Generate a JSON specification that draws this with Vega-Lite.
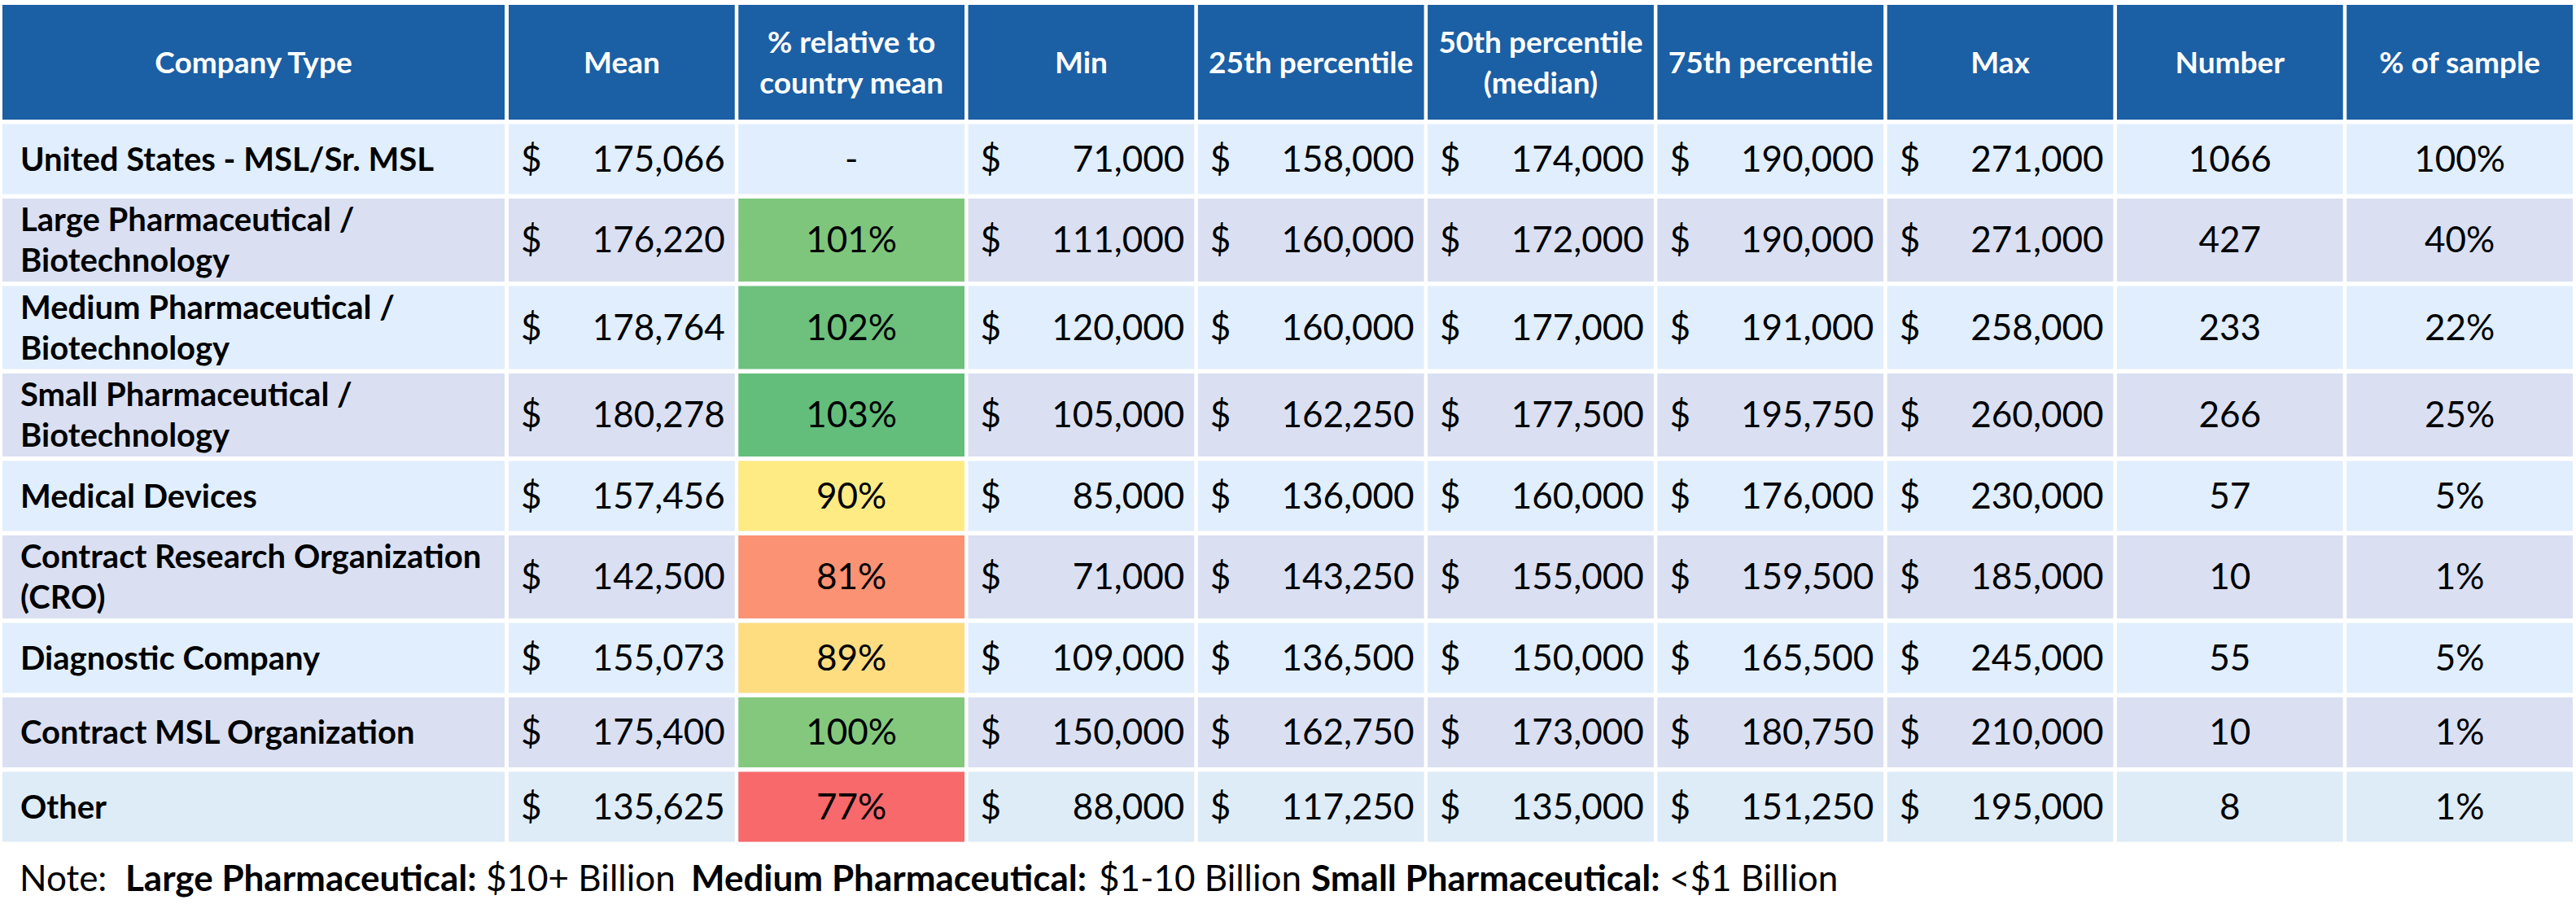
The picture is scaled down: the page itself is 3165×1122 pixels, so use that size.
{
  "$schema": "https://vega.github.io/schema/vega-lite/v6.json",
  "background": "white",
  "padding": {"left": 3, "top": 6, "right": 0, "bottom": 0},
  "config": {
    "view": {"stroke": null},
    "text": {"font": "Lato", "fontSize": 44, "color": "#000000", "dy": 2}
  },
  "datasets": {
    "rows": [
      {"type": "United States - MSL/Sr. MSL", "mean": 175066, "rel": null, "min": 71000, "p25": 158000, "p50": 174000, "p75": 190000, "max": 271000, "n": 1066, "share": 1.0},
      {"type": "Large Pharmaceutical / Biotechnology", "mean": 176220, "rel": 1.0066, "min": 111000, "p25": 160000, "p50": 172000, "p75": 190000, "max": 271000, "n": 427, "share": 0.40},
      {"type": "Medium Pharmaceutical / Biotechnology", "mean": 178764, "rel": 1.0211, "min": 120000, "p25": 160000, "p50": 177000, "p75": 191000, "max": 258000, "n": 233, "share": 0.22},
      {"type": "Small Pharmaceutical / Biotechnology", "mean": 180278, "rel": 1.0298, "min": 105000, "p25": 162250, "p50": 177500, "p75": 195750, "max": 260000, "n": 266, "share": 0.25},
      {"type": "Medical Devices", "mean": 157456, "rel": 0.8994, "min": 85000, "p25": 136000, "p50": 160000, "p75": 176000, "max": 230000, "n": 57, "share": 0.05},
      {"type": "Contract Research Organization (CRO)", "mean": 142500, "rel": 0.8140, "min": 71000, "p25": 143250, "p50": 155000, "p75": 159500, "max": 185000, "n": 10, "share": 0.01},
      {"type": "Diagnostic Company", "mean": 155073, "rel": 0.8858, "min": 109000, "p25": 136500, "p50": 150000, "p75": 165500, "max": 245000, "n": 55, "share": 0.05},
      {"type": "Contract MSL Organization", "mean": 175400, "rel": 1.0019, "min": 150000, "p25": 162750, "p50": 173000, "p75": 180750, "max": 210000, "n": 10, "share": 0.01},
      {"type": "Other", "mean": 135625, "rel": 0.7747, "min": 88000, "p25": 117250, "p50": 135000, "p75": 151250, "max": 195000, "n": 8, "share": 0.01}
    ],
    "cols": [
      {"col": "Company Type"},
      {"col": "Mean"},
      {"col": "% relative to country mean"},
      {"col": "Min"},
      {"col": "25th percentile"},
      {"col": "50th percentile (median)"},
      {"col": "75th percentile"},
      {"col": "Max"},
      {"col": "Number"},
      {"col": "% of sample"}
    ],
    "note": [
      {"part": "Note:"},
      {"part": "Large Pharmaceutical:"},
      {"part": "$10+ Billion"},
      {"part": "Medium Pharmaceutical:"},
      {"part": "$1-10 Billion"},
      {"part": "Small Pharmaceutical:"},
      {"part": "<$1 Billion"}
    ]
  },
  "data": {"name": "rows"},
  "spacing": 5.5,
  "vconcat": [
    {
      "spacing": 5, "bounds": "flush",
      "hconcat": [
        {"width": 617, "height": 141, "data": {"name": "cols"}, "view": {"fill": "#1B5FA5"},
         "transform": [{"filter": "datum.col === 'Company Type'"}],
         "mark": {"type": "text", "color": "white", "fontWeight": "bold", "fontSize": 37},
         "encoding": {"x": {"field": "col", "type": "nominal", "axis": null, "scale": {"type": "band", "paddingInner": 0, "paddingOuter": 0}}, "text": {"field": "col"}}},
        {"width": 2536, "height": 141, "data": {"name": "cols"},
         "transform": [{"filter": "datum.col !== 'Company Type'"}],
         "encoding": {"x": {"field": "col", "type": "nominal", "axis": null, "sort": null, "scale": {"type": "band", "domain": ["Mean", "% relative to country mean", "Min", "25th percentile", "50th percentile (median)", "75th percentile", "Max", "Number", "% of sample"], "paddingInner": 0.016, "paddingOuter": 0}}},
         "layer": [
           {"mark": {"type": "rect", "color": "#1B5FA5"}},
           {"transform": [{"filter": "indexof(['% relative to country mean', '50th percentile (median)'], datum.col) < 0"}], "mark": {"type": "text", "color": "white", "fontWeight": "bold", "fontSize": 37}, "encoding": {"text": {"field": "col"}}},
           {"transform": [{"filter": "indexof(['% relative to country mean', '50th percentile (median)'], datum.col) >= 0"}], "mark": {"type": "text", "color": "white", "fontWeight": "bold", "fontSize": 37, "lineHeight": 50, "dy": -23, "lineBreak": {"expr": "regexp('(?<=to) | (?=[(])')"}}, "encoding": {"text": {"field": "col"}}}
         ]}
      ]
    },
    {
      "spacing": 5, "bounds": "flush",
      "hconcat": [
        {"width": 617, "height": 86, "view": {"fill": "#E1EEFD"},
         "transform": [{"filter": "datum.type === 'United States - MSL/Sr. MSL'"}],
         "mark": {"type": "text", "align": "left", "dx": 22, "fontWeight": "bold", "fontSize": 40},
         "encoding": {"x": {"field": "type", "type": "nominal", "axis": null, "bandPosition": 0, "scale": {"type": "band", "paddingInner": 0, "paddingOuter": 0}}, "text": {"field": "type"}}},
        {"width": 2536, "height": 86,
         "transform": [{"filter": "datum.type === 'United States - MSL/Sr. MSL'"}, {"fold": ["mean", "rel", "min", "p25", "p50", "p75", "max", "n", "share"], "as": ["key", "value"]}],
         "encoding": {"x": {"field": "key", "type": "nominal", "axis": null, "scale": {"type": "band", "domain": ["mean", "rel", "min", "p25", "p50", "p75", "max", "n", "share"], "paddingInner": 0.016, "paddingOuter": 0}}},
         "layer": [
           {"mark": {"type": "rect", "color": "#E1EEFD"}},
           {"transform": [{"filter": "datum.key === 'rel' && datum.value != null"}], "mark": {"type": "rect"}, "encoding": {"color": {"field": "value", "type": "quantitative", "scale": {"domain": [0.7747, 0.8994, 1.0298], "range": ["#F8696B", "#FFEB84", "#63BE7B"], "interpolate": "rgb"}, "legend": null}}},
           {"transform": [{"filter": "indexof(['mean','min','p25','p50','p75','max'], datum.key) >= 0"}], "mark": {"type": "text", "align": "left", "dx": 15, "text": "$"}, "encoding": {"x": {"field": "key", "type": "nominal", "axis": null, "bandPosition": 0, "scale": {"type": "band", "domain": ["mean", "rel", "min", "p25", "p50", "p75", "max", "n", "share"], "paddingInner": 0.016, "paddingOuter": 0}}}},
           {"transform": [{"filter": "indexof(['mean','min','p25','p50','p75','max'], datum.key) >= 0"}], "mark": {"type": "text", "align": "right", "dx": -12}, "encoding": {"x": {"field": "key", "type": "nominal", "axis": null, "bandPosition": 1, "scale": {"type": "band", "domain": ["mean", "rel", "min", "p25", "p50", "p75", "max", "n", "share"], "paddingInner": 0.016, "paddingOuter": 0}}, "text": {"field": "value", "type": "quantitative", "format": ",d"}}},
           {"transform": [{"filter": "datum.key === 'rel' && datum.value != null"}], "mark": {"type": "text"}, "encoding": {"text": {"field": "value", "type": "quantitative", "format": ".0%"}}},
           {"transform": [{"filter": "datum.key === 'rel' && datum.value == null"}], "mark": {"type": "text", "text": "-"}},
           {"transform": [{"filter": "datum.key === 'n'"}], "mark": {"type": "text"}, "encoding": {"text": {"field": "value", "type": "quantitative", "format": "d"}}},
           {"transform": [{"filter": "datum.key === 'share'"}], "mark": {"type": "text"}, "encoding": {"text": {"field": "value", "type": "quantitative", "format": ".0%"}}}
         ]}
      ]
    },
    {
      "spacing": 5, "bounds": "flush",
      "hconcat": [
        {"width": 617, "height": 102, "view": {"fill": "#DAE0F2"},
         "transform": [{"filter": "datum.type === 'Large Pharmaceutical / Biotechnology'"}],
         "mark": {"type": "text", "align": "left", "dx": 22, "dy": -23, "fontWeight": "bold", "fontSize": 40, "lineHeight": 50, "lineBreak": {"expr": "regexp('(?<=/) | (?=[(])')"}},
         "encoding": {"x": {"field": "type", "type": "nominal", "axis": null, "bandPosition": 0, "scale": {"type": "band", "paddingInner": 0, "paddingOuter": 0}}, "text": {"field": "type"}}},
        {"width": 2536, "height": 102,
         "transform": [{"filter": "datum.type === 'Large Pharmaceutical / Biotechnology'"}, {"fold": ["mean", "rel", "min", "p25", "p50", "p75", "max", "n", "share"], "as": ["key", "value"]}],
         "encoding": {"x": {"field": "key", "type": "nominal", "axis": null, "scale": {"type": "band", "domain": ["mean", "rel", "min", "p25", "p50", "p75", "max", "n", "share"], "paddingInner": 0.016, "paddingOuter": 0}}},
         "layer": [
           {"mark": {"type": "rect", "color": "#DAE0F2"}},
           {"transform": [{"filter": "datum.key === 'rel' && datum.value != null"}], "mark": {"type": "rect"}, "encoding": {"color": {"field": "value", "type": "quantitative", "scale": {"domain": [0.7747, 0.8994, 1.0298], "range": ["#F8696B", "#FFEB84", "#63BE7B"], "interpolate": "rgb"}, "legend": null}}},
           {"transform": [{"filter": "indexof(['mean','min','p25','p50','p75','max'], datum.key) >= 0"}], "mark": {"type": "text", "align": "left", "dx": 15, "text": "$"}, "encoding": {"x": {"field": "key", "type": "nominal", "axis": null, "bandPosition": 0, "scale": {"type": "band", "domain": ["mean", "rel", "min", "p25", "p50", "p75", "max", "n", "share"], "paddingInner": 0.016, "paddingOuter": 0}}}},
           {"transform": [{"filter": "indexof(['mean','min','p25','p50','p75','max'], datum.key) >= 0"}], "mark": {"type": "text", "align": "right", "dx": -12}, "encoding": {"x": {"field": "key", "type": "nominal", "axis": null, "bandPosition": 1, "scale": {"type": "band", "domain": ["mean", "rel", "min", "p25", "p50", "p75", "max", "n", "share"], "paddingInner": 0.016, "paddingOuter": 0}}, "text": {"field": "value", "type": "quantitative", "format": ",d"}}},
           {"transform": [{"filter": "datum.key === 'rel' && datum.value != null"}], "mark": {"type": "text"}, "encoding": {"text": {"field": "value", "type": "quantitative", "format": ".0%"}}},
           {"transform": [{"filter": "datum.key === 'rel' && datum.value == null"}], "mark": {"type": "text", "text": "-"}},
           {"transform": [{"filter": "datum.key === 'n'"}], "mark": {"type": "text"}, "encoding": {"text": {"field": "value", "type": "quantitative", "format": "d"}}},
           {"transform": [{"filter": "datum.key === 'share'"}], "mark": {"type": "text"}, "encoding": {"text": {"field": "value", "type": "quantitative", "format": ".0%"}}}
         ]}
      ]
    },
    {
      "spacing": 5, "bounds": "flush",
      "hconcat": [
        {"width": 617, "height": 102, "view": {"fill": "#E1EEFD"},
         "transform": [{"filter": "datum.type === 'Medium Pharmaceutical / Biotechnology'"}],
         "mark": {"type": "text", "align": "left", "dx": 22, "dy": -23, "fontWeight": "bold", "fontSize": 40, "lineHeight": 50, "lineBreak": {"expr": "regexp('(?<=/) | (?=[(])')"}},
         "encoding": {"x": {"field": "type", "type": "nominal", "axis": null, "bandPosition": 0, "scale": {"type": "band", "paddingInner": 0, "paddingOuter": 0}}, "text": {"field": "type"}}},
        {"width": 2536, "height": 102,
         "transform": [{"filter": "datum.type === 'Medium Pharmaceutical / Biotechnology'"}, {"fold": ["mean", "rel", "min", "p25", "p50", "p75", "max", "n", "share"], "as": ["key", "value"]}],
         "encoding": {"x": {"field": "key", "type": "nominal", "axis": null, "scale": {"type": "band", "domain": ["mean", "rel", "min", "p25", "p50", "p75", "max", "n", "share"], "paddingInner": 0.016, "paddingOuter": 0}}},
         "layer": [
           {"mark": {"type": "rect", "color": "#E1EEFD"}},
           {"transform": [{"filter": "datum.key === 'rel' && datum.value != null"}], "mark": {"type": "rect"}, "encoding": {"color": {"field": "value", "type": "quantitative", "scale": {"domain": [0.7747, 0.8994, 1.0298], "range": ["#F8696B", "#FFEB84", "#63BE7B"], "interpolate": "rgb"}, "legend": null}}},
           {"transform": [{"filter": "indexof(['mean','min','p25','p50','p75','max'], datum.key) >= 0"}], "mark": {"type": "text", "align": "left", "dx": 15, "text": "$"}, "encoding": {"x": {"field": "key", "type": "nominal", "axis": null, "bandPosition": 0, "scale": {"type": "band", "domain": ["mean", "rel", "min", "p25", "p50", "p75", "max", "n", "share"], "paddingInner": 0.016, "paddingOuter": 0}}}},
           {"transform": [{"filter": "indexof(['mean','min','p25','p50','p75','max'], datum.key) >= 0"}], "mark": {"type": "text", "align": "right", "dx": -12}, "encoding": {"x": {"field": "key", "type": "nominal", "axis": null, "bandPosition": 1, "scale": {"type": "band", "domain": ["mean", "rel", "min", "p25", "p50", "p75", "max", "n", "share"], "paddingInner": 0.016, "paddingOuter": 0}}, "text": {"field": "value", "type": "quantitative", "format": ",d"}}},
           {"transform": [{"filter": "datum.key === 'rel' && datum.value != null"}], "mark": {"type": "text"}, "encoding": {"text": {"field": "value", "type": "quantitative", "format": ".0%"}}},
           {"transform": [{"filter": "datum.key === 'rel' && datum.value == null"}], "mark": {"type": "text", "text": "-"}},
           {"transform": [{"filter": "datum.key === 'n'"}], "mark": {"type": "text"}, "encoding": {"text": {"field": "value", "type": "quantitative", "format": "d"}}},
           {"transform": [{"filter": "datum.key === 'share'"}], "mark": {"type": "text"}, "encoding": {"text": {"field": "value", "type": "quantitative", "format": ".0%"}}}
         ]}
      ]
    },
    {
      "spacing": 5, "bounds": "flush",
      "hconcat": [
        {"width": 617, "height": 102, "view": {"fill": "#DAE0F2"},
         "transform": [{"filter": "datum.type === 'Small Pharmaceutical / Biotechnology'"}],
         "mark": {"type": "text", "align": "left", "dx": 22, "dy": -23, "fontWeight": "bold", "fontSize": 40, "lineHeight": 50, "lineBreak": {"expr": "regexp('(?<=/) | (?=[(])')"}},
         "encoding": {"x": {"field": "type", "type": "nominal", "axis": null, "bandPosition": 0, "scale": {"type": "band", "paddingInner": 0, "paddingOuter": 0}}, "text": {"field": "type"}}},
        {"width": 2536, "height": 102,
         "transform": [{"filter": "datum.type === 'Small Pharmaceutical / Biotechnology'"}, {"fold": ["mean", "rel", "min", "p25", "p50", "p75", "max", "n", "share"], "as": ["key", "value"]}],
         "encoding": {"x": {"field": "key", "type": "nominal", "axis": null, "scale": {"type": "band", "domain": ["mean", "rel", "min", "p25", "p50", "p75", "max", "n", "share"], "paddingInner": 0.016, "paddingOuter": 0}}},
         "layer": [
           {"mark": {"type": "rect", "color": "#DAE0F2"}},
           {"transform": [{"filter": "datum.key === 'rel' && datum.value != null"}], "mark": {"type": "rect"}, "encoding": {"color": {"field": "value", "type": "quantitative", "scale": {"domain": [0.7747, 0.8994, 1.0298], "range": ["#F8696B", "#FFEB84", "#63BE7B"], "interpolate": "rgb"}, "legend": null}}},
           {"transform": [{"filter": "indexof(['mean','min','p25','p50','p75','max'], datum.key) >= 0"}], "mark": {"type": "text", "align": "left", "dx": 15, "text": "$"}, "encoding": {"x": {"field": "key", "type": "nominal", "axis": null, "bandPosition": 0, "scale": {"type": "band", "domain": ["mean", "rel", "min", "p25", "p50", "p75", "max", "n", "share"], "paddingInner": 0.016, "paddingOuter": 0}}}},
           {"transform": [{"filter": "indexof(['mean','min','p25','p50','p75','max'], datum.key) >= 0"}], "mark": {"type": "text", "align": "right", "dx": -12}, "encoding": {"x": {"field": "key", "type": "nominal", "axis": null, "bandPosition": 1, "scale": {"type": "band", "domain": ["mean", "rel", "min", "p25", "p50", "p75", "max", "n", "share"], "paddingInner": 0.016, "paddingOuter": 0}}, "text": {"field": "value", "type": "quantitative", "format": ",d"}}},
           {"transform": [{"filter": "datum.key === 'rel' && datum.value != null"}], "mark": {"type": "text"}, "encoding": {"text": {"field": "value", "type": "quantitative", "format": ".0%"}}},
           {"transform": [{"filter": "datum.key === 'rel' && datum.value == null"}], "mark": {"type": "text", "text": "-"}},
           {"transform": [{"filter": "datum.key === 'n'"}], "mark": {"type": "text"}, "encoding": {"text": {"field": "value", "type": "quantitative", "format": "d"}}},
           {"transform": [{"filter": "datum.key === 'share'"}], "mark": {"type": "text"}, "encoding": {"text": {"field": "value", "type": "quantitative", "format": ".0%"}}}
         ]}
      ]
    },
    {
      "spacing": 5, "bounds": "flush",
      "hconcat": [
        {"width": 617, "height": 86, "view": {"fill": "#E1EEFD"},
         "transform": [{"filter": "datum.type === 'Medical Devices'"}],
         "mark": {"type": "text", "align": "left", "dx": 22, "fontWeight": "bold", "fontSize": 40},
         "encoding": {"x": {"field": "type", "type": "nominal", "axis": null, "bandPosition": 0, "scale": {"type": "band", "paddingInner": 0, "paddingOuter": 0}}, "text": {"field": "type"}}},
        {"width": 2536, "height": 86,
         "transform": [{"filter": "datum.type === 'Medical Devices'"}, {"fold": ["mean", "rel", "min", "p25", "p50", "p75", "max", "n", "share"], "as": ["key", "value"]}],
         "encoding": {"x": {"field": "key", "type": "nominal", "axis": null, "scale": {"type": "band", "domain": ["mean", "rel", "min", "p25", "p50", "p75", "max", "n", "share"], "paddingInner": 0.016, "paddingOuter": 0}}},
         "layer": [
           {"mark": {"type": "rect", "color": "#E1EEFD"}},
           {"transform": [{"filter": "datum.key === 'rel' && datum.value != null"}], "mark": {"type": "rect"}, "encoding": {"color": {"field": "value", "type": "quantitative", "scale": {"domain": [0.7747, 0.8994, 1.0298], "range": ["#F8696B", "#FFEB84", "#63BE7B"], "interpolate": "rgb"}, "legend": null}}},
           {"transform": [{"filter": "indexof(['mean','min','p25','p50','p75','max'], datum.key) >= 0"}], "mark": {"type": "text", "align": "left", "dx": 15, "text": "$"}, "encoding": {"x": {"field": "key", "type": "nominal", "axis": null, "bandPosition": 0, "scale": {"type": "band", "domain": ["mean", "rel", "min", "p25", "p50", "p75", "max", "n", "share"], "paddingInner": 0.016, "paddingOuter": 0}}}},
           {"transform": [{"filter": "indexof(['mean','min','p25','p50','p75','max'], datum.key) >= 0"}], "mark": {"type": "text", "align": "right", "dx": -12}, "encoding": {"x": {"field": "key", "type": "nominal", "axis": null, "bandPosition": 1, "scale": {"type": "band", "domain": ["mean", "rel", "min", "p25", "p50", "p75", "max", "n", "share"], "paddingInner": 0.016, "paddingOuter": 0}}, "text": {"field": "value", "type": "quantitative", "format": ",d"}}},
           {"transform": [{"filter": "datum.key === 'rel' && datum.value != null"}], "mark": {"type": "text"}, "encoding": {"text": {"field": "value", "type": "quantitative", "format": ".0%"}}},
           {"transform": [{"filter": "datum.key === 'rel' && datum.value == null"}], "mark": {"type": "text", "text": "-"}},
           {"transform": [{"filter": "datum.key === 'n'"}], "mark": {"type": "text"}, "encoding": {"text": {"field": "value", "type": "quantitative", "format": "d"}}},
           {"transform": [{"filter": "datum.key === 'share'"}], "mark": {"type": "text"}, "encoding": {"text": {"field": "value", "type": "quantitative", "format": ".0%"}}}
         ]}
      ]
    },
    {
      "spacing": 5, "bounds": "flush",
      "hconcat": [
        {"width": 617, "height": 102, "view": {"fill": "#DAE0F2"},
         "transform": [{"filter": "datum.type === 'Contract Research Organization (CRO)'"}],
         "mark": {"type": "text", "align": "left", "dx": 22, "dy": -23, "fontWeight": "bold", "fontSize": 40, "lineHeight": 50, "lineBreak": {"expr": "regexp('(?<=/) | (?=[(])')"}},
         "encoding": {"x": {"field": "type", "type": "nominal", "axis": null, "bandPosition": 0, "scale": {"type": "band", "paddingInner": 0, "paddingOuter": 0}}, "text": {"field": "type"}}},
        {"width": 2536, "height": 102,
         "transform": [{"filter": "datum.type === 'Contract Research Organization (CRO)'"}, {"fold": ["mean", "rel", "min", "p25", "p50", "p75", "max", "n", "share"], "as": ["key", "value"]}],
         "encoding": {"x": {"field": "key", "type": "nominal", "axis": null, "scale": {"type": "band", "domain": ["mean", "rel", "min", "p25", "p50", "p75", "max", "n", "share"], "paddingInner": 0.016, "paddingOuter": 0}}},
         "layer": [
           {"mark": {"type": "rect", "color": "#DAE0F2"}},
           {"transform": [{"filter": "datum.key === 'rel' && datum.value != null"}], "mark": {"type": "rect"}, "encoding": {"color": {"field": "value", "type": "quantitative", "scale": {"domain": [0.7747, 0.8994, 1.0298], "range": ["#F8696B", "#FFEB84", "#63BE7B"], "interpolate": "rgb"}, "legend": null}}},
           {"transform": [{"filter": "indexof(['mean','min','p25','p50','p75','max'], datum.key) >= 0"}], "mark": {"type": "text", "align": "left", "dx": 15, "text": "$"}, "encoding": {"x": {"field": "key", "type": "nominal", "axis": null, "bandPosition": 0, "scale": {"type": "band", "domain": ["mean", "rel", "min", "p25", "p50", "p75", "max", "n", "share"], "paddingInner": 0.016, "paddingOuter": 0}}}},
           {"transform": [{"filter": "indexof(['mean','min','p25','p50','p75','max'], datum.key) >= 0"}], "mark": {"type": "text", "align": "right", "dx": -12}, "encoding": {"x": {"field": "key", "type": "nominal", "axis": null, "bandPosition": 1, "scale": {"type": "band", "domain": ["mean", "rel", "min", "p25", "p50", "p75", "max", "n", "share"], "paddingInner": 0.016, "paddingOuter": 0}}, "text": {"field": "value", "type": "quantitative", "format": ",d"}}},
           {"transform": [{"filter": "datum.key === 'rel' && datum.value != null"}], "mark": {"type": "text"}, "encoding": {"text": {"field": "value", "type": "quantitative", "format": ".0%"}}},
           {"transform": [{"filter": "datum.key === 'rel' && datum.value == null"}], "mark": {"type": "text", "text": "-"}},
           {"transform": [{"filter": "datum.key === 'n'"}], "mark": {"type": "text"}, "encoding": {"text": {"field": "value", "type": "quantitative", "format": "d"}}},
           {"transform": [{"filter": "datum.key === 'share'"}], "mark": {"type": "text"}, "encoding": {"text": {"field": "value", "type": "quantitative", "format": ".0%"}}}
         ]}
      ]
    },
    {
      "spacing": 5, "bounds": "flush",
      "hconcat": [
        {"width": 617, "height": 86, "view": {"fill": "#E1EEFD"},
         "transform": [{"filter": "datum.type === 'Diagnostic Company'"}],
         "mark": {"type": "text", "align": "left", "dx": 22, "fontWeight": "bold", "fontSize": 40},
         "encoding": {"x": {"field": "type", "type": "nominal", "axis": null, "bandPosition": 0, "scale": {"type": "band", "paddingInner": 0, "paddingOuter": 0}}, "text": {"field": "type"}}},
        {"width": 2536, "height": 86,
         "transform": [{"filter": "datum.type === 'Diagnostic Company'"}, {"fold": ["mean", "rel", "min", "p25", "p50", "p75", "max", "n", "share"], "as": ["key", "value"]}],
         "encoding": {"x": {"field": "key", "type": "nominal", "axis": null, "scale": {"type": "band", "domain": ["mean", "rel", "min", "p25", "p50", "p75", "max", "n", "share"], "paddingInner": 0.016, "paddingOuter": 0}}},
         "layer": [
           {"mark": {"type": "rect", "color": "#E1EEFD"}},
           {"transform": [{"filter": "datum.key === 'rel' && datum.value != null"}], "mark": {"type": "rect"}, "encoding": {"color": {"field": "value", "type": "quantitative", "scale": {"domain": [0.7747, 0.8994, 1.0298], "range": ["#F8696B", "#FFEB84", "#63BE7B"], "interpolate": "rgb"}, "legend": null}}},
           {"transform": [{"filter": "indexof(['mean','min','p25','p50','p75','max'], datum.key) >= 0"}], "mark": {"type": "text", "align": "left", "dx": 15, "text": "$"}, "encoding": {"x": {"field": "key", "type": "nominal", "axis": null, "bandPosition": 0, "scale": {"type": "band", "domain": ["mean", "rel", "min", "p25", "p50", "p75", "max", "n", "share"], "paddingInner": 0.016, "paddingOuter": 0}}}},
           {"transform": [{"filter": "indexof(['mean','min','p25','p50','p75','max'], datum.key) >= 0"}], "mark": {"type": "text", "align": "right", "dx": -12}, "encoding": {"x": {"field": "key", "type": "nominal", "axis": null, "bandPosition": 1, "scale": {"type": "band", "domain": ["mean", "rel", "min", "p25", "p50", "p75", "max", "n", "share"], "paddingInner": 0.016, "paddingOuter": 0}}, "text": {"field": "value", "type": "quantitative", "format": ",d"}}},
           {"transform": [{"filter": "datum.key === 'rel' && datum.value != null"}], "mark": {"type": "text"}, "encoding": {"text": {"field": "value", "type": "quantitative", "format": ".0%"}}},
           {"transform": [{"filter": "datum.key === 'rel' && datum.value == null"}], "mark": {"type": "text", "text": "-"}},
           {"transform": [{"filter": "datum.key === 'n'"}], "mark": {"type": "text"}, "encoding": {"text": {"field": "value", "type": "quantitative", "format": "d"}}},
           {"transform": [{"filter": "datum.key === 'share'"}], "mark": {"type": "text"}, "encoding": {"text": {"field": "value", "type": "quantitative", "format": ".0%"}}}
         ]}
      ]
    },
    {
      "spacing": 5, "bounds": "flush",
      "hconcat": [
        {"width": 617, "height": 86, "view": {"fill": "#DAE0F2"},
         "transform": [{"filter": "datum.type === 'Contract MSL Organization'"}],
         "mark": {"type": "text", "align": "left", "dx": 22, "fontWeight": "bold", "fontSize": 40},
         "encoding": {"x": {"field": "type", "type": "nominal", "axis": null, "bandPosition": 0, "scale": {"type": "band", "paddingInner": 0, "paddingOuter": 0}}, "text": {"field": "type"}}},
        {"width": 2536, "height": 86,
         "transform": [{"filter": "datum.type === 'Contract MSL Organization'"}, {"fold": ["mean", "rel", "min", "p25", "p50", "p75", "max", "n", "share"], "as": ["key", "value"]}],
         "encoding": {"x": {"field": "key", "type": "nominal", "axis": null, "scale": {"type": "band", "domain": ["mean", "rel", "min", "p25", "p50", "p75", "max", "n", "share"], "paddingInner": 0.016, "paddingOuter": 0}}},
         "layer": [
           {"mark": {"type": "rect", "color": "#DAE0F2"}},
           {"transform": [{"filter": "datum.key === 'rel' && datum.value != null"}], "mark": {"type": "rect"}, "encoding": {"color": {"field": "value", "type": "quantitative", "scale": {"domain": [0.7747, 0.8994, 1.0298], "range": ["#F8696B", "#FFEB84", "#63BE7B"], "interpolate": "rgb"}, "legend": null}}},
           {"transform": [{"filter": "indexof(['mean','min','p25','p50','p75','max'], datum.key) >= 0"}], "mark": {"type": "text", "align": "left", "dx": 15, "text": "$"}, "encoding": {"x": {"field": "key", "type": "nominal", "axis": null, "bandPosition": 0, "scale": {"type": "band", "domain": ["mean", "rel", "min", "p25", "p50", "p75", "max", "n", "share"], "paddingInner": 0.016, "paddingOuter": 0}}}},
           {"transform": [{"filter": "indexof(['mean','min','p25','p50','p75','max'], datum.key) >= 0"}], "mark": {"type": "text", "align": "right", "dx": -12}, "encoding": {"x": {"field": "key", "type": "nominal", "axis": null, "bandPosition": 1, "scale": {"type": "band", "domain": ["mean", "rel", "min", "p25", "p50", "p75", "max", "n", "share"], "paddingInner": 0.016, "paddingOuter": 0}}, "text": {"field": "value", "type": "quantitative", "format": ",d"}}},
           {"transform": [{"filter": "datum.key === 'rel' && datum.value != null"}], "mark": {"type": "text"}, "encoding": {"text": {"field": "value", "type": "quantitative", "format": ".0%"}}},
           {"transform": [{"filter": "datum.key === 'rel' && datum.value == null"}], "mark": {"type": "text", "text": "-"}},
           {"transform": [{"filter": "datum.key === 'n'"}], "mark": {"type": "text"}, "encoding": {"text": {"field": "value", "type": "quantitative", "format": "d"}}},
           {"transform": [{"filter": "datum.key === 'share'"}], "mark": {"type": "text"}, "encoding": {"text": {"field": "value", "type": "quantitative", "format": ".0%"}}}
         ]}
      ]
    },
    {
      "spacing": 5, "bounds": "flush",
      "hconcat": [
        {"width": 617, "height": 86, "view": {"fill": "#DEECF7"},
         "transform": [{"filter": "datum.type === 'Other'"}],
         "mark": {"type": "text", "align": "left", "dx": 22, "fontWeight": "bold", "fontSize": 40},
         "encoding": {"x": {"field": "type", "type": "nominal", "axis": null, "bandPosition": 0, "scale": {"type": "band", "paddingInner": 0, "paddingOuter": 0}}, "text": {"field": "type"}}},
        {"width": 2536, "height": 86,
         "transform": [{"filter": "datum.type === 'Other'"}, {"fold": ["mean", "rel", "min", "p25", "p50", "p75", "max", "n", "share"], "as": ["key", "value"]}],
         "encoding": {"x": {"field": "key", "type": "nominal", "axis": null, "scale": {"type": "band", "domain": ["mean", "rel", "min", "p25", "p50", "p75", "max", "n", "share"], "paddingInner": 0.016, "paddingOuter": 0}}},
         "layer": [
           {"mark": {"type": "rect", "color": "#DEECF7"}},
           {"transform": [{"filter": "datum.key === 'rel' && datum.value != null"}], "mark": {"type": "rect"}, "encoding": {"color": {"field": "value", "type": "quantitative", "scale": {"domain": [0.7747, 0.8994, 1.0298], "range": ["#F8696B", "#FFEB84", "#63BE7B"], "interpolate": "rgb"}, "legend": null}}},
           {"transform": [{"filter": "indexof(['mean','min','p25','p50','p75','max'], datum.key) >= 0"}], "mark": {"type": "text", "align": "left", "dx": 15, "text": "$"}, "encoding": {"x": {"field": "key", "type": "nominal", "axis": null, "bandPosition": 0, "scale": {"type": "band", "domain": ["mean", "rel", "min", "p25", "p50", "p75", "max", "n", "share"], "paddingInner": 0.016, "paddingOuter": 0}}}},
           {"transform": [{"filter": "indexof(['mean','min','p25','p50','p75','max'], datum.key) >= 0"}], "mark": {"type": "text", "align": "right", "dx": -12}, "encoding": {"x": {"field": "key", "type": "nominal", "axis": null, "bandPosition": 1, "scale": {"type": "band", "domain": ["mean", "rel", "min", "p25", "p50", "p75", "max", "n", "share"], "paddingInner": 0.016, "paddingOuter": 0}}, "text": {"field": "value", "type": "quantitative", "format": ",d"}}},
           {"transform": [{"filter": "datum.key === 'rel' && datum.value != null"}], "mark": {"type": "text"}, "encoding": {"text": {"field": "value", "type": "quantitative", "format": ".0%"}}},
           {"transform": [{"filter": "datum.key === 'rel' && datum.value == null"}], "mark": {"type": "text", "text": "-"}},
           {"transform": [{"filter": "datum.key === 'n'"}], "mark": {"type": "text"}, "encoding": {"text": {"field": "value", "type": "quantitative", "format": "d"}}},
           {"transform": [{"filter": "datum.key === 'share'"}], "mark": {"type": "text"}, "encoding": {"text": {"field": "value", "type": "quantitative", "format": ".0%"}}}
         ]}
      ]
    },
    {
      "spacing": 0, "bounds": "flush",
      "hconcat": [
        {"width": 151, "height": 80, "data": {"name": "note"}, "transform": [{"filter": "datum.part === 'Note:'"}],
         "mark": {"type": "text", "align": "left", "dx": 21, "fontSize": 44},
         "encoding": {"x": {"field": "part", "type": "nominal", "axis": null, "bandPosition": 0, "scale": {"type": "band", "paddingInner": 0, "paddingOuter": 0}}, "text": {"field": "part"}}},
        {"width": 443, "height": 80, "data": {"name": "note"}, "transform": [{"filter": "datum.part === 'Large Pharmaceutical:'"}],
         "mark": {"type": "text", "align": "left", "fontWeight": "bold", "fontSize": 44},
         "encoding": {"x": {"field": "part", "type": "nominal", "axis": null, "bandPosition": 0, "scale": {"type": "band", "paddingInner": 0, "paddingOuter": 0}}, "text": {"field": "part"}}},
        {"width": 252, "height": 80, "data": {"name": "note"}, "transform": [{"filter": "datum.part === '$10+ Billion'"}],
         "mark": {"type": "text", "align": "left", "fontSize": 44},
         "encoding": {"x": {"field": "part", "type": "nominal", "axis": null, "bandPosition": 0, "scale": {"type": "band", "paddingInner": 0, "paddingOuter": 0}}, "text": {"field": "part"}}},
        {"width": 501, "height": 80, "data": {"name": "note"}, "transform": [{"filter": "datum.part === 'Medium Pharmaceutical:'"}],
         "mark": {"type": "text", "align": "left", "fontWeight": "bold", "fontSize": 44},
         "encoding": {"x": {"field": "part", "type": "nominal", "axis": null, "bandPosition": 0, "scale": {"type": "band", "paddingInner": 0, "paddingOuter": 0}}, "text": {"field": "part"}}},
        {"width": 261, "height": 80, "data": {"name": "note"}, "transform": [{"filter": "datum.part === '$1-10 Billion'"}],
         "mark": {"type": "text", "align": "left", "fontSize": 44},
         "encoding": {"x": {"field": "part", "type": "nominal", "axis": null, "bandPosition": 0, "scale": {"type": "band", "paddingInner": 0, "paddingOuter": 0}}, "text": {"field": "part"}}},
        {"width": 440, "height": 80, "data": {"name": "note"}, "transform": [{"filter": "datum.part === 'Small Pharmaceutical:'"}],
         "mark": {"type": "text", "align": "left", "fontWeight": "bold", "fontSize": 44},
         "encoding": {"x": {"field": "part", "type": "nominal", "axis": null, "bandPosition": 0, "scale": {"type": "band", "paddingInner": 0, "paddingOuter": 0}}, "text": {"field": "part"}}},
        {"width": 220, "height": 80, "data": {"name": "note"}, "transform": [{"filter": "datum.part === '<$1 Billion'"}],
         "mark": {"type": "text", "align": "left", "fontSize": 44},
         "encoding": {"x": {"field": "part", "type": "nominal", "axis": null, "bandPosition": 0, "scale": {"type": "band", "paddingInner": 0, "paddingOuter": 0}}, "text": {"field": "part"}}}
      ]
    }
  ]
}
